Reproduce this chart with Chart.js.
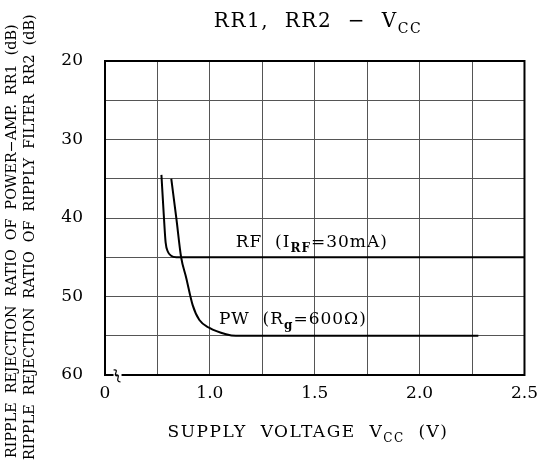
<!DOCTYPE html>
<html>
<head>
<meta charset="utf-8">
<script src="https://cdn.jsdelivr.net/npm/chart.js@4.4.1/dist/chart.umd.min.js"></script>
<style>
  html, body { margin: 0; padding: 0; background: #fff; }
  #wrap { width: 546px; height: 460px; }
</style>
</head>
<body>
<div id="wrap"><canvas id="rr_chart" width="546" height="460"></canvas></div>
<script>
// data (x axis is broken: left edge 0.5 V is labelled "0")
const rfVcc = [0.769, 0.78, 0.789, 0.80, 0.815, 0.84, 0.87, 1.2, 2.5];
const rfDb = [34.5, 39.5, 43.1, 44.3, 44.8, 45.0, 45.0, 45.0, 45.0];

const pwVcc = [0.816, 0.84, 0.863, 0.887, 0.918, 0.95, 0.998, 1.077, 1.124, 1.6, 2.28];
const pwDb = [35.0, 40.0, 45.0, 47.6, 51.1, 53.0, 54.0, 54.8, 55.0, 55.0, 55.0];

const xTickLabels = { 0.5: '0', 1: '1.0', 1.5: '1.5', 2: '2.0', 2.5: '2.5' };
const yTickLabels = [20, 30, 40, 50, 60];

const serif = '"DejaVu Serif", "Liberation Serif", serif';

// text with subscript pieces: [[text, isSub, bold], ...]
function drawRich(ctx, parts, x, y, size, align, spacing) {
    ctx.save();
    ctx.textBaseline = 'alphabetic';
    ctx.textAlign = 'left';
    ctx.letterSpacing = (spacing || 0) + 'px';
    const fontOf = p => (p[2] ? 'bold ' : '') + (p[1] ? Math.round(size * 0.72) : size) + 'px ' + serif;
    let total = 0;
    parts.forEach(p => {
        ctx.font = fontOf(p);
        total += ctx.measureText(p[0]).width;
    });
    let cx = align === 'center' ? x - total / 2 : x;
    parts.forEach(p => {
        ctx.font = fontOf(p);
        ctx.fillText(p[0], cx, p[1] ? y + size * 0.3 : y);
        cx += ctx.measureText(p[0]).width;
    });
    ctx.restore();
}

const decorPlugin = {
    id: 'decor',
    afterDraw(chart) {
        const ctx = chart.ctx;
        const a = chart.chartArea;
        const xs = chart.scales.x;
        const ys = chart.scales.y;

        // frame
        ctx.save();
        ctx.strokeStyle = '#000';
        ctx.lineWidth = 2;
        ctx.strokeRect(a.left, a.top, a.right - a.left, a.bottom - a.top);

        // axis break mark
        const bx = xs.getPixelForValue(0.555);
        ctx.fillStyle = '#fff';
        ctx.fillRect(bx - 3, a.bottom - 2, 8, 4);
        ctx.lineWidth = 1.2;
        ctx.beginPath();
        ctx.moveTo(bx - 3, a.bottom - 5);
        ctx.bezierCurveTo(bx + 4, a.bottom - 6, bx - 5, a.bottom + 1, bx + 1, a.bottom + 1);
        ctx.moveTo(bx - 1, a.bottom);
        ctx.bezierCurveTo(bx + 6, a.bottom - 1, bx - 3, a.bottom + 6, bx + 4, a.bottom + 7);
        ctx.stroke();
        ctx.restore();

        ctx.save();
        ctx.fillStyle = '#000';

        // title
        drawRich(ctx, [['RR1,  RR2  \u2212  V', false], ['CC', true]], 318, 27, 20, 'center', 1.5);

        // x axis title
        drawRich(ctx, [['SUPPLY  VOLTAGE  V', false], ['CC', true], ['  (V)', false]], 308, 437, 17, 'center', 1.5);

        // curve labels
        drawRich(ctx, [['RF  (I', false], ['RF', true, true], ['=30mA)', false]],
            xs.getPixelForValue(1.123), ys.getPixelForValue(43.7), 17, 'left', 1);
        drawRich(ctx, [['PW  (R', false], ['g', true, true], ['=600\u03a9)', false]],
            xs.getPixelForValue(1.043), ys.getPixelForValue(53.5), 17, 'left', 1);

        // y axis title, two rotated lines
        ctx.rotate(-Math.PI / 2);
        ctx.font = '14.3px ' + serif;
        ctx.textAlign = 'left';
        ctx.textBaseline = 'middle';
        ctx.fillText('RIPPLE  REJECTION  RATIO  OF  POWER\u2212AMP.  RR1  (dB)', -458, 12);
        ctx.fillText('RIPPLE  REJECTION  RATIO  OF  RIPPLY  FILTER  RR2  (dB)', -460, 30);
        ctx.restore();
    }
};

const chart_data = {
    datasets: [{
        label: 'RF',
        data: rfVcc.map((v, i) => ({ x: v, y: rfDb[i] })),
        borderColor: '#000',
        borderWidth: 2,
        pointRadius: 0,
        cubicInterpolationMode: 'monotone',
        fill: false
    }, {
        label: 'PW',
        data: pwVcc.map((v, i) => ({ x: v, y: pwDb[i] })),
        borderColor: '#000',
        borderWidth: 2,
        pointRadius: 0,
        cubicInterpolationMode: 'monotone',
        fill: false
    }]
};

const config = {
    type: 'line',
    data: chart_data,
    plugins: [decorPlugin],
    options: {
        responsive: false,
        animation: false,
        layout: { padding: { top: 61, right: 19, left: 0, bottom: 0 } },
        plugins: {
            legend: { display: false },
            tooltip: { enabled: false }
        },
        scales: {
            x: {
                type: 'linear',
                min: 0.5,
                max: 2.5,
                afterFit: s => { s.height = 85; },
                grid: { color: '#555', lineWidth: 1, drawTicks: false },
                border: { display: false },
                ticks: {
                    stepSize: 0.25,
                    autoSkip: false,
                    maxRotation: 0,
                    padding: 8,
                    color: '#000',
                    font: { family: serif, size: 17 },
                    callback: v => xTickLabels[v] !== undefined ? xTickLabels[v] : ''
                }
            },
            y: {
                type: 'linear',
                reverse: true,
                min: 20,
                max: 60,
                afterFit: s => { s.width = 105; },
                grid: { color: '#555', lineWidth: 1, drawTicks: false },
                border: { display: false },
                ticks: {
                    stepSize: 5,
                    autoSkip: false,
                    padding: 22,
                    color: '#000',
                    font: { family: serif, size: 17 },
                    callback: v => yTickLabels.includes(v) ? String(v) : ''
                }
            }
        }
    }
};

new Chart(document.getElementById('rr_chart'), config);
</script>
</body>
</html>
